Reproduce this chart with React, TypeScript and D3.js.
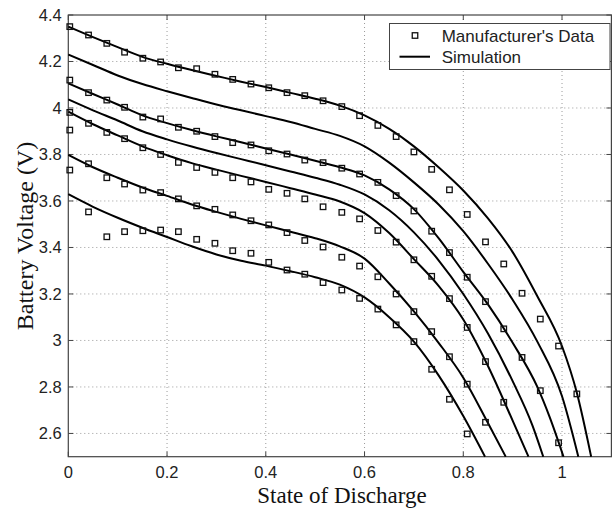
import React, { useEffect, useRef } from "react";
import * as d3 from "d3";

// x positions of the manufacturer's data points (state of discharge)
const markerX = [
  0.003, 0.041, 0.078, 0.114, 0.151, 0.187, 0.223, 0.26, 0.297, 0.333, 0.37, 0.406, 0.443, 0.479, 0.516,
  0.554, 0.59, 0.627, 0.664, 0.7, 0.736, 0.772, 0.808, 0.845, 0.882, 0.919, 0.956, 0.993, 1.03,
];

// manufacturer's data, one array per discharge curve that has points
const data1 = [
  4.35, 4.314, 4.278, 4.24, 4.214, 4.198, 4.173, 4.169, 4.145, 4.123, 4.103, 4.087, 4.066, 4.053, 4.031,
  4.006, 3.967, 3.925, 3.877, 3.811, 3.736, 3.648, 3.542, 3.424, 3.329, 3.203, 3.092, 2.976, 2.77,
];
const data3 = [
  4.12, 4.066, 4.034, 4.003, 3.961, 3.953, 3.917, 3.9, 3.877, 3.851, 3.841, 3.816, 3.802, 3.776, 3.765,
  3.741, 3.716, 3.68, 3.623, 3.557, 3.47, 3.378, 3.272, 3.167, 3.05, 2.927, 2.784, 2.56,
];
const data5 = [
  3.981, 3.934, 3.895, 3.868, 3.829, 3.8, 3.766, 3.744, 3.723, 3.7, 3.682, 3.65, 3.633, 3.609, 3.575,
  3.551, 3.523, 3.473, 3.423, 3.347, 3.276, 3.18, 3.056, 2.909, 2.734,
];
const data6 = [
  3.905, 3.76, 3.7, 3.673, 3.647, 3.636, 3.609, 3.579, 3.564, 3.54, 3.515, 3.497, 3.464, 3.43, 3.402,
  3.358, 3.32, 3.274, 3.2, 3.124, 3.038, 2.93, 2.812, 2.648,
];
const data7 = [
  3.733, 3.553, 3.446, 3.468, 3.472, 3.475, 3.468, 3.435, 3.418, 3.386, 3.375, 3.336, 3.303, 3.285, 3.249,
  3.217, 3.181, 3.135, 3.067, 2.995, 2.876, 2.747, 2.598,
];

// simulation curves [state of discharge, voltage]
const sim1 = [
  [0, 4.35], [0.05, 4.305], [0.1, 4.262], [0.15, 4.22], [0.2, 4.19], [0.25, 4.163], [0.3, 4.138],
  [0.35, 4.113], [0.4, 4.09], [0.45, 4.065], [0.5, 4.04], [0.55, 4.01], [0.6, 3.968], [0.65, 3.91],
  [0.7, 3.835], [0.75, 3.745], [0.8, 3.645], [0.85, 3.525], [0.9, 3.38], [0.95, 3.19], [1.0, 2.975],
  [1.03, 2.775], [1.059, 2.5],
];
const sim2 = [
  [0, 4.23], [0.05, 4.185], [0.1, 4.14], [0.15, 4.103], [0.2, 4.072], [0.25, 4.043], [0.3, 4.015],
  [0.35, 3.99], [0.4, 3.965], [0.45, 3.94], [0.5, 3.91], [0.55, 3.88], [0.6, 3.835], [0.65, 3.765],
  [0.7, 3.68], [0.75, 3.585], [0.8, 3.47], [0.85, 3.33], [0.9, 3.175], [0.95, 2.995], [1.0, 2.76],
  [1.033, 2.5],
];
const sim3 = [
  [0, 4.106], [0.05, 4.06], [0.1, 4.015], [0.15, 3.968], [0.2, 3.935], [0.25, 3.905], [0.3, 3.878],
  [0.35, 3.853], [0.4, 3.826], [0.45, 3.8], [0.5, 3.773], [0.55, 3.745], [0.6, 3.71], [0.65, 3.65],
  [0.7, 3.565], [0.75, 3.44], [0.8, 3.295], [0.85, 3.155], [0.9, 2.99], [0.95, 2.8], [0.975, 2.67],
  [1.003, 2.5],
];
const sim4 = [
  [0, 4.037], [0.05, 3.99], [0.1, 3.946], [0.15, 3.9], [0.2, 3.865], [0.25, 3.834], [0.3, 3.806],
  [0.35, 3.78], [0.4, 3.754], [0.45, 3.727], [0.5, 3.7], [0.55, 3.67], [0.6, 3.628], [0.65, 3.56],
  [0.7, 3.465], [0.75, 3.345], [0.8, 3.2], [0.85, 3.03], [0.9, 2.825], [0.94, 2.635], [0.962, 2.5],
];
const sim5 = [
  [0, 3.984], [0.05, 3.93], [0.1, 3.882], [0.15, 3.835], [0.2, 3.797], [0.25, 3.763], [0.3, 3.735],
  [0.35, 3.708], [0.4, 3.682], [0.45, 3.655], [0.5, 3.628], [0.55, 3.598], [0.6, 3.548], [0.65, 3.462],
  [0.7, 3.35], [0.75, 3.235], [0.8, 3.09], [0.85, 2.89], [0.9, 2.655], [0.932, 2.5],
];
const sim6 = [
  [0, 3.798], [0.05, 3.745], [0.1, 3.7], [0.15, 3.658], [0.2, 3.622], [0.25, 3.585], [0.3, 3.553],
  [0.35, 3.523], [0.4, 3.495], [0.45, 3.468], [0.5, 3.44], [0.55, 3.405], [0.6, 3.352], [0.65, 3.245],
  [0.7, 3.125], [0.75, 2.99], [0.8, 2.84], [0.85, 2.645], [0.886, 2.5],
];
const sim7 = [
  [0, 3.629], [0.05, 3.575], [0.1, 3.528], [0.15, 3.485], [0.2, 3.445], [0.25, 3.405], [0.3, 3.37],
  [0.35, 3.343], [0.4, 3.322], [0.45, 3.298], [0.5, 3.272], [0.55, 3.24], [0.6, 3.185], [0.65, 3.1],
  [0.7, 2.995], [0.75, 2.85], [0.8, 2.675], [0.844, 2.5],
];

const xTicks = [0, 0.2, 0.4, 0.6, 0.8, 1];
const yTicks = [2.6, 2.8, 3, 3.2, 3.4, 3.6, 3.8, 4, 4.2, 4.4];

const App = () => {
  const ref = useRef(null);

  useEffect(() => {
    const width = 612;
    const height = 510;
    const left = 68.3;
    const right = 611.4;
    const top = 15;
    const bottom = 456.7;

    const svg = d3.select(ref.current);
    svg.selectAll("*").remove();

    const x = d3.scaleLinear().domain([0, 1.1]).range([left, right]);
    const y = d3.scaleLinear().domain([2.5, 4.4]).range([bottom, top]);

    svg.append("rect").attr("width", width).attr("height", height).attr("fill", "#fff");

    // dotted grid
    const grid = svg.append("g").attr("stroke", "#9a9a9a").attr("stroke-width", 1).attr("stroke-dasharray", "1,3");
    xTicks.slice(1).forEach((t) => {
      grid.append("line").attr("x1", x(t)).attr("x2", x(t)).attr("y1", top).attr("y2", bottom);
    });
    yTicks.slice(0, -1).forEach((t) => {
      grid.append("line").attr("x1", left).attr("x2", right).attr("y1", y(t)).attr("y2", y(t));
    });

    // tick marks on all sides, pointing in
    const ticks = svg.append("g").attr("stroke", "#444").attr("stroke-width", 1);
    xTicks.forEach((t) => {
      ticks.append("line").attr("x1", x(t)).attr("x2", x(t)).attr("y1", bottom).attr("y2", bottom - 5);
      ticks.append("line").attr("x1", x(t)).attr("x2", x(t)).attr("y1", top).attr("y2", top + 5);
    });
    yTicks.forEach((t) => {
      ticks.append("line").attr("x1", left).attr("x2", left + 5).attr("y1", y(t)).attr("y2", y(t));
      ticks.append("line").attr("x1", right).attr("x2", right - 5).attr("y1", y(t)).attr("y2", y(t));
    });

    // plot box
    svg
      .append("rect")
      .attr("x", left)
      .attr("y", top)
      .attr("width", right - left)
      .attr("height", bottom - top)
      .attr("fill", "none")
      .attr("stroke", "#444")
      .attr("stroke-width", 1.2);

    // tick labels
    const font = "'Liberation Sans', Arial, sans-serif";
    svg
      .append("g")
      .selectAll("text")
      .data(xTicks)
      .enter()
      .append("text")
      .attr("x", (d) => x(d))
      .attr("y", 478)
      .attr("text-anchor", "middle")
      .attr("font-family", font)
      .attr("font-size", 16.5)
      .attr("fill", "#222")
      .text((d) => String(d));
    svg
      .append("g")
      .selectAll("text")
      .data(yTicks)
      .enter()
      .append("text")
      .attr("x", left - 6.5)
      .attr("y", (d) => y(d) + 6)
      .attr("text-anchor", "end")
      .attr("font-family", font)
      .attr("font-size", 16.5)
      .attr("fill", "#222")
      .text((d) => String(d));

    // axis titles
    const serif = "'Liberation Serif', 'Times New Roman', serif";
    svg
      .append("text")
      .attr("x", 342)
      .attr("y", 503)
      .attr("text-anchor", "middle")
      .attr("font-family", serif)
      .attr("font-size", 23)
      .attr("fill", "#111")
      .text("State of Discharge");
    svg
      .append("text")
      .attr("transform", "translate(33,236) rotate(-90)")
      .attr("text-anchor", "middle")
      .attr("font-family", serif)
      .attr("font-size", 24)
      .attr("fill", "#111")
      .text("Battery Voltage (V)");

    // simulation curves
    const line = d3
      .line()
      .x((d) => x(d[0]))
      .y((d) => y(d[1]))
      .curve(d3.curveMonotoneX);
    const sims = [sim1, sim2, sim3, sim4, sim5, sim6, sim7];
    svg
      .append("g")
      .selectAll("path")
      .data(sims)
      .enter()
      .append("path")
      .attr("d", (d) => line(d))
      .attr("fill", "none")
      .attr("stroke", "#000")
      .attr("stroke-width", 2);

    // manufacturer's data as open squares
    const sq = 5.5;
    const dataSets = [data1, data3, data5, data6, data7];
    const pts = [];
    dataSets.forEach((ds) => ds.forEach((v, i) => pts.push([markerX[i], v])));
    svg
      .append("g")
      .selectAll("rect")
      .data(pts)
      .enter()
      .append("rect")
      .attr("x", (d) => x(d[0]) - sq / 2)
      .attr("y", (d) => y(d[1]) - sq / 2)
      .attr("width", sq)
      .attr("height", sq)
      .attr("fill", "none")
      .attr("stroke", "#111")
      .attr("stroke-width", 1.3);

    // legend
    const lg = svg.append("g");
    lg.append("rect")
      .attr("x", 389.5)
      .attr("y", 23.5)
      .attr("width", 220.5)
      .attr("height", 46)
      .attr("fill", "#fff")
      .attr("stroke", "#444")
      .attr("stroke-width", 1);
    lg.append("rect")
      .attr("x", 415 - sq / 2)
      .attr("y", 35.5 - sq / 2)
      .attr("width", sq)
      .attr("height", sq)
      .attr("fill", "none")
      .attr("stroke", "#111")
      .attr("stroke-width", 1.3);
    lg.append("line")
      .attr("x1", 399.5)
      .attr("x2", 430)
      .attr("y1", 56.7)
      .attr("y2", 56.7)
      .attr("stroke", "#000")
      .attr("stroke-width", 2);
    lg.append("text")
      .attr("x", 441.7)
      .attr("y", 41.7)
      .attr("font-family", font)
      .attr("font-size", 17)
      .attr("fill", "#222")
      .text("Manufacturer's Data");
    lg.append("text")
      .attr("x", 441.7)
      .attr("y", 62.5)
      .attr("font-family", font)
      .attr("font-size", 17)
      .attr("fill", "#222")
      .text("Simulation");
  }, []);

  return (
    <svg
      ref={ref}
      width={612}
      height={510}
      style={{ position: "absolute", left: 0, top: 0 }}
    ></svg>
  );
};

export default App;
